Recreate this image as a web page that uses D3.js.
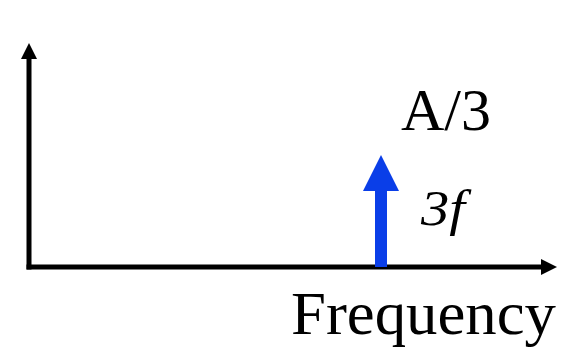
<!DOCTYPE html>
<html>
<head>
<meta charset="utf-8">
<script src="https://cdn.jsdelivr.net/npm/d3@7"></script>
<style>
  html, body { margin: 0; padding: 0; background: #fff; }
  svg { display: block; }
  text { font-family: "Liberation Serif", "Times New Roman", serif; fill: #000; }
</style>
</head>
<body>
<svg id="chart" width="586" height="352"></svg>
<script>
// Spectrum line: the third harmonic of a signal with amplitude A
const harmonics = [3];            // multiples of the fundamental f
const amplitudes = [1 / 3];       // amplitude as a fraction of A
const amplitudeLabels = ["A/3"];
const frequencyLabels = ["3f"];
const axisTitle = "Frequency";

const svg = d3.select("#chart");

const x = d3.scaleLinear().domain([0, 3]).range([29, 381]);
const y = d3.scaleLinear().domain([0, 1 / 3]).range([267, 155]);

const axisW = 5, head = 16, headHalf = 8;
const x0 = x(0), y0 = y(0);

// Axes with arrowheads
const axes = svg.append("g");
axes.append("line")
  .attr("x1", x0).attr("y1", y0 + axisW / 2)
  .attr("x2", x0).attr("y2", 59)
  .attr("stroke", "#000").attr("stroke-width", axisW);
axes.append("path")
  .attr("d", `M${x0},43 L${x0 - headHalf},${43 + head} L${x0 + headHalf},${43 + head} Z`)
  .attr("fill", "#000");
axes.append("line")
  .attr("x1", x0 - axisW / 2).attr("y1", y0)
  .attr("x2", 541).attr("y2", y0)
  .attr("stroke", "#000").attr("stroke-width", axisW);
axes.append("path")
  .attr("d", `M557,${y0} L541,${y0 - headHalf} L541,${y0 + headHalf} Z`)
  .attr("fill", "#000");

// Spectral component arrows
const blue = "#0a3ee8";
const comps = harmonics.map((h, i) => ({ h, a: amplitudes[i], lab: amplitudeLabels[i], f: frequencyLabels[i] }));
const g = svg.append("g").selectAll("g").data(comps).join("g");
const shaftW = 12, arrowHead = 36, arrowHalf = 18;
g.append("rect")
  .attr("x", d => x(d.h) - shaftW / 2)
  .attr("y", d => y(d.a) + arrowHead - 1)
  .attr("width", shaftW)
  .attr("height", d => y0 - (y(d.a) + arrowHead - 1))
  .attr("fill", blue);
g.append("path")
  .attr("d", d => `M${x(d.h)},${y(d.a)} L${x(d.h) - arrowHalf},${y(d.a) + arrowHead} L${x(d.h) + arrowHalf},${y(d.a) + arrowHead} Z`)
  .attr("fill", blue);

g.append("text")
  .attr("x", d => x(d.h) + 20)
  .attr("y", d => y(d.a) - 25)
  .attr("font-size", 60)
  .attr("textLength", 90)
  .attr("lengthAdjust", "spacingAndGlyphs")
  .text(d => d.lab);

g.append("text")
  .attr("x", d => x(d.h) + 40)
  .attr("y", 225)
  .attr("font-size", 50)
  .attr("font-style", "italic")
  .attr("textLength", 44)
  .attr("lengthAdjust", "spacingAndGlyphs")
  .text(d => d.f);

svg.append("text")
  .attr("x", 291)
  .attr("y", 334)
  .attr("font-size", 62)
  .attr("textLength", 265)
  .attr("lengthAdjust", "spacingAndGlyphs")
  .text(axisTitle);
</script>
</body>
</html>
